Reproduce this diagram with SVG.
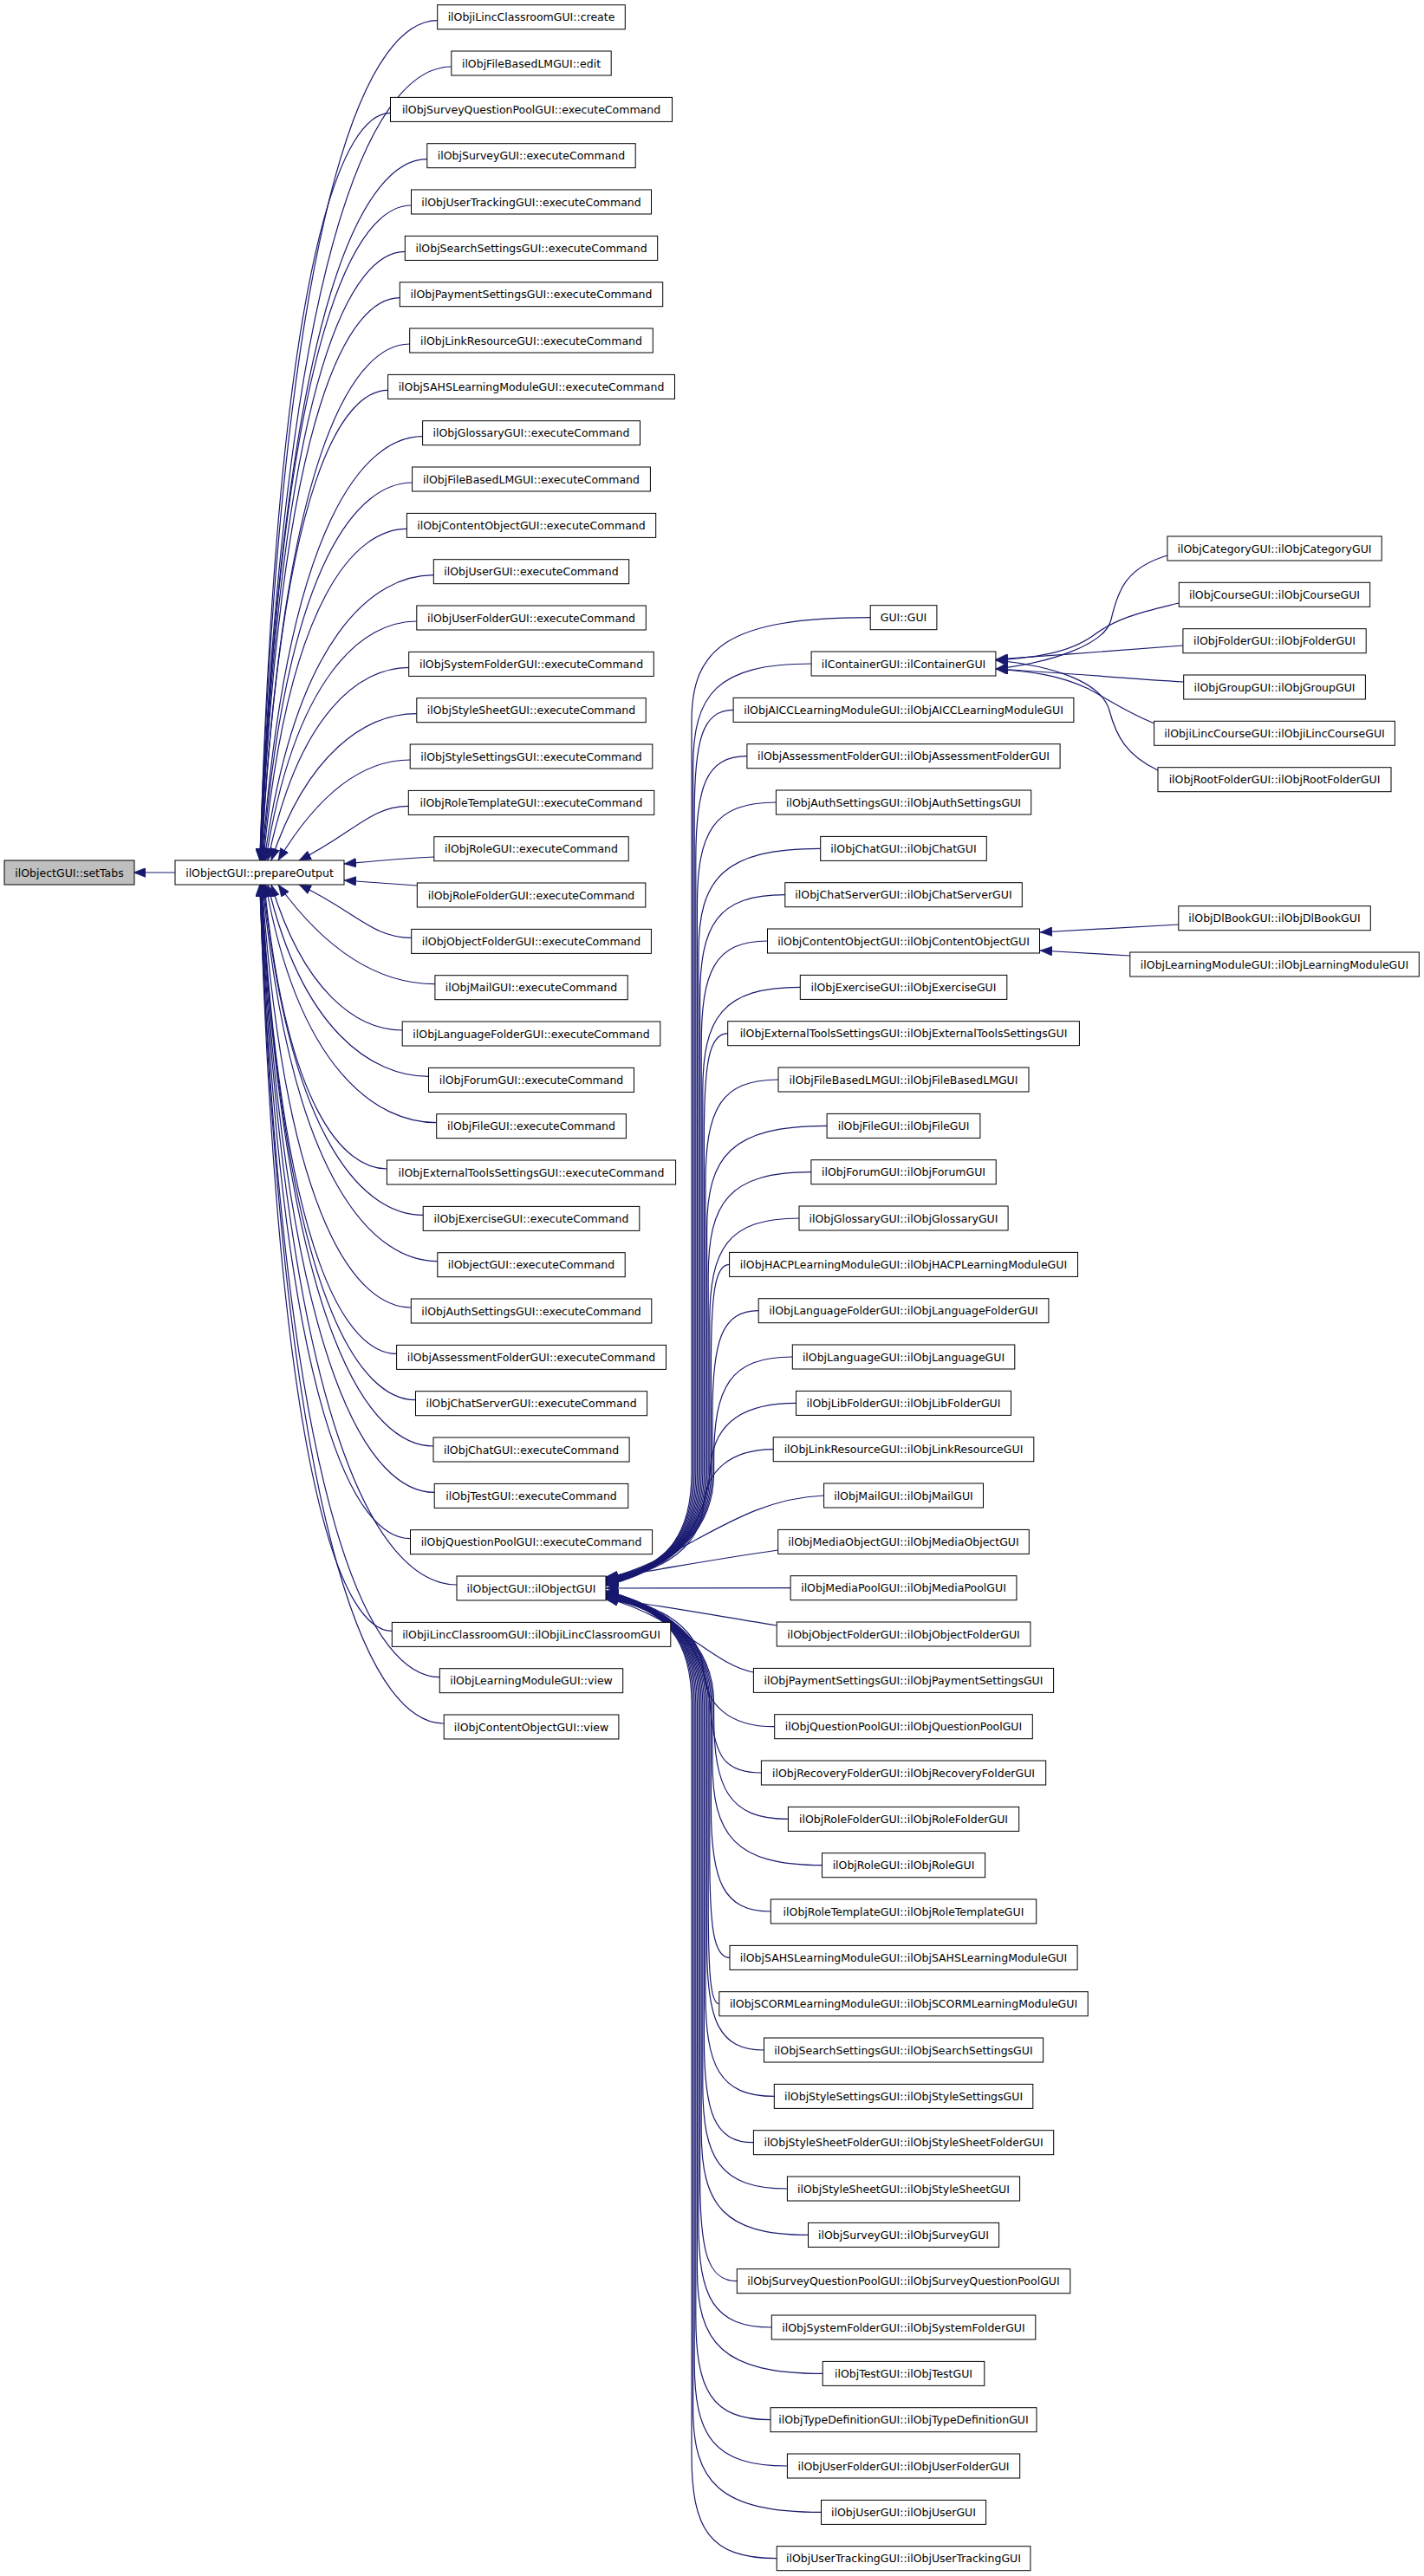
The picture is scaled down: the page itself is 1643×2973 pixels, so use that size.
<svg xmlns="http://www.w3.org/2000/svg" width="1643" height="2973" viewBox="0 0 1643 2973">
<style>
rect{fill:#fff;stroke:#000;stroke-width:1}
rect.hl{fill:#bfbfbf}
text{font-family:"DejaVu Sans","Liberation Sans",sans-serif;font-size:12.5px;text-anchor:middle;fill:#000}
.e path{fill:none;stroke:#191970;stroke-width:1.2;marker-end:url(#a)}
</style>
<defs>
<marker id="a" markerUnits="userSpaceOnUse" markerWidth="14" markerHeight="11" viewBox="0 0 14 11" refX="14" refY="5.5" orient="auto"><path d="M0,0 L14,5.5 L0,11 Z" fill="#191970" stroke="#191970" stroke-width="0.5"/></marker>
</defs>
<rect x="0" y="0" width="1643" height="2973" style="fill:#fff;stroke:none"/>
<g class="e" id="edges">
<path d="M202,1007 L154,1007"/>
<path d="M504.7,23.7 C433,23.7 328.6,187.9 299.7,993"/>
<path d="M520.8,77 C443.5,77 331.3,233.3 299.8,993"/>
<path d="M450.5,130.4 C397.8,130.4 321.6,278.7 300,993"/>
<path d="M492.8,183.7 C425.4,183.7 328.2,324 300.2,993"/>
<path d="M474.5,237 C413.6,237 326,369.3 300.4,993"/>
<path d="M467.3,290.4 C409,290.4 325.6,414.7 300.7,993"/>
<path d="M461.3,343.7 C405.2,343.7 325.3,460 301,993"/>
<path d="M472.7,397 C412.7,397 327.9,505.4 301.4,993"/>
<path d="M447.6,450.4 C396.6,450.4 324.8,550.8 301.8,993"/>
<path d="M487.6,503.7 C422.7,503.7 332.3,596.1 302.3,993"/>
<path d="M475.6,557 C415.2,557 331.9,641.5 303,993"/>
<path d="M469.4,610.4 C411.5,610.4 332.7,686.9 303.9,993"/>
<path d="M500.3,663.7 C431.9,663.7 340.8,732.3 305,993"/>
<path d="M480.8,717 C419.8,717 340.7,777.7 306.6,993"/>
<path d="M471.7,770.4 C414.8,770.4 344,823.3 309,993"/>
<path d="M480.8,823.7 C422.1,823.7 354.4,868.8 313,993"/>
<path d="M473.2,877 C419.9,877 368.2,914.7 321,993"/>
<path d="M471.3,930.4 C427.1,930.4 408.2,961.7 345,993"/>
<path d="M501,989 C460,991 430,994 397,997"/>
<path d="M481,1022 C450,1020 425,1018 397,1016"/>
<path d="M474.7,1082.4 C429.3,1082.4 409.9,1051.7 345,1021"/>
<path d="M501.9,1135.7 C438.6,1135.7 377.1,1098.4 321,1021"/>
<path d="M464.2,1189 C411.3,1189 350.3,1144.2 313,1021"/>
<path d="M494.5,1242.4 C429.6,1242.4 348.9,1189.8 309,1021"/>
<path d="M503.7,1295.7 C434.7,1295.7 345.2,1235.3 306.6,1021"/>
<path d="M446.4,1349 C396.9,1349 330.9,1280.7 305,1021"/>
<path d="M488.2,1402.4 C423.7,1402.4 336,1326.1 303.9,1021"/>
<path d="M504.8,1455.7 C434.2,1455.7 336.8,1371.5 303,1021"/>
<path d="M474.3,1509 C414.1,1509 330.2,1416.8 302.3,1021"/>
<path d="M457.6,1562.4 C403.1,1562.4 326.4,1462.2 301.8,1021"/>
<path d="M479.5,1615.7 C417.2,1615.7 328.9,1507.6 301.4,1021"/>
<path d="M500,1669 C430.3,1669 331.2,1552.9 301,1021"/>
<path d="M501.2,1722.4 C431,1722.4 330.6,1598.3 300.7,1021"/>
<path d="M473.5,1775.7 C412.9,1775.7 325.9,1643.6 300.4,1021"/>
<path d="M527,1829 C447.6,1829 333.2,1689 300.2,1021"/>
<path d="M452.3,1882.4 C399,1882.4 321.9,1734.3 300,1021"/>
<path d="M507.3,1935.7 C434.7,1935.7 329.3,1779.7 299.8,1021"/>
<path d="M512.2,1989 C437.8,1989 329.7,1825 299.7,1021"/>
<path d="M1004.2,712.7 C839.2,712.7 798,747.7 798,832.7 L798,1700 C798,1770 770,1812 699,1820"/>
<path d="M936.1,766 C826.9,766 799.6,801 799.6,886 L799.6,1700 C799.6,1770 770,1812 699,1820.6"/>
<path d="M846.1,819.4 C810.2,819.4 801.2,854.4 801.2,939.4 L801.2,1700 C801.2,1770 770,1812 699,1821.2"/>
<path d="M861.9,872.7 C814.6,872.7 802.8,907.7 802.8,992.7 L802.8,1700 C802.8,1770 770,1812 699,1821.8"/>
<path d="M895.4,926 C822.6,926 804.4,961 804.4,1046 L804.4,1700 C804.4,1770 770,1812 699,1822.4"/>
<path d="M946.7,979.4 C834.1,979.4 806,1014.4 806,1099.4 L806,1700 C806,1770 770,1812 699,1823"/>
<path d="M905.8,1032.7 C827.2,1032.7 807.6,1067.7 807.6,1152.7 L807.6,1700 C807.6,1770 770,1812 699,1823.6"/>
<path d="M885.5,1086 C824.5,1086 809.2,1121 809.2,1206 L809.2,1700 C809.2,1770 770,1812 699,1824.2"/>
<path d="M923.3,1139.4 C833.3,1139.4 810.8,1174.4 810.8,1259.4 L810.8,1700 C810.8,1770 770,1812 699,1824.8"/>
<path d="M839.7,1192.7 C817.9,1192.7 812.4,1227.7 812.4,1312.7 L812.4,1700 C812.4,1770 770,1812 699,1825.4"/>
<path d="M898,1246 C830.8,1246 814,1281 814,1366 L814,1700 C814,1770 770,1812 699,1826"/>
<path d="M954.1,1299.4 C843.3,1299.4 815.6,1334.4 815.6,1419.4 L815.6,1700 C815.6,1770 770,1812 699,1826.6"/>
<path d="M935.9,1352.7 C840.9,1352.7 817.2,1387.7 817.2,1472.7 L817.2,1700 C817.2,1770 770,1812 699,1827.2"/>
<path d="M922,1406 C839.4,1406 818.8,1441 818.8,1526 L818.8,1700 C818.8,1770 770,1812 699,1827.8"/>
<path d="M841.6,1459.4 C824.6,1459.4 820.4,1494.4 820.4,1579.4 L820.4,1700 C820.4,1770 770,1812 699,1828.4"/>
<path d="M875.2,1512.7 C832.6,1512.7 822,1547.7 822,1632.7 L822,1700 C822,1770 770,1812 699,1829"/>
<path d="M914.3,1566 C841.7,1566 823.6,1601 823.6,1686 L823.6,1700 C823.6,1770 770,1812 699,1829.6"/>
<path d="M918.5,1619.4 C860,1619.4 825,1640 820,1690 C815,1770 770,1812 699,1830"/>
<path d="M892.2,1672.7 C840,1673 815,1700 812,1735 C808,1785 770,1812 699,1826"/>
<path d="M950.6,1726 C850,1730 790,1800 699,1822"/>
<path d="M897.7,1789 C820,1800 760,1812 699,1821"/>
<path d="M912.1,1832.7 L699,1833"/>
<path d="M896.2,1876 C820,1864 760,1852 699,1845"/>
<path d="M869.4,1930 C820,1920 790,1870 699,1844"/>
<path d="M893.7,1992.7 C840,1993 815,1966 812,1931 C808,1881 770,1854 699,1840"/>
<path d="M878.4,2046 C835,2046 825,2026 820,1976 C815,1896 770,1854 699,1836"/>
<path d="M909.4,2099.4 C840.8,2099.4 823.6,2064.4 823.6,1979.4 L823.6,1966 C823.6,1896 770,1854 699,1836.4"/>
<path d="M948.5,2152.7 C847.3,2152.7 822,2117.7 822,2032.7 L822,1966 C822,1896 770,1854 699,1837"/>
<path d="M889.3,2206 C834.2,2206 820.4,2171 820.4,2086 L820.4,1966 C820.4,1896 770,1854 699,1837.6"/>
<path d="M842,2259.4 C823.4,2259.4 818.8,2224.4 818.8,2139.4 L818.8,1966 C818.8,1896 770,1854 699,1838.2"/>
<path d="M829.8,2312.7 C819.7,2312.7 817.2,2277.7 817.2,2192.7 L817.2,1966 C817.2,1896 770,1854 699,1838.8"/>
<path d="M881.5,2366 C828.8,2366 815.6,2331 815.6,2246 L815.6,1966 C815.6,1896 770,1854 699,1839.4"/>
<path d="M893.3,2419.4 C829.9,2419.4 814,2384.4 814,2299.4 L814,1966 C814,1896 770,1854 699,1840"/>
<path d="M869.4,2472.7 C823.8,2472.7 812.4,2437.7 812.4,2352.7 L812.4,1966 C812.4,1896 770,1854 699,1840.6"/>
<path d="M908.4,2526 C830.3,2526 810.8,2491 810.8,2406 L810.8,1966 C810.8,1896 770,1854 699,1841.2"/>
<path d="M932.5,2579.4 C833.9,2579.4 809.2,2544.4 809.2,2459.4 L809.2,1966 C809.2,1896 770,1854 699,1841.8"/>
<path d="M850.3,2632.7 C816.1,2632.7 807.6,2597.7 807.6,2512.7 L807.6,1966 C807.6,1896 770,1854 699,1842.4"/>
<path d="M890.3,2686 C822.9,2686 806,2651 806,2566 L806,1966 C806,1896 770,1854 699,1843"/>
<path d="M949.2,2739.4 C833.4,2739.4 804.4,2704.4 804.4,2619.4 L804.4,1966 C804.4,1896 770,1854 699,1843.6"/>
<path d="M889,2792.7 C820,2792.7 802.8,2757.7 802.8,2672.7 L802.8,1966 C802.8,1896 770,1854 699,1844.2"/>
<path d="M908.4,2846 C822.6,2846 801.2,2811 801.2,2726 L801.2,1966 C801.2,1896 770,1854 699,1844.8"/>
<path d="M947.5,2899.4 C829.2,2899.4 799.6,2864.4 799.6,2779.4 L799.6,1966 C799.6,1896 770,1854 699,1845.4"/>
<path d="M896.2,2952.7 C817.6,2952.7 798,2917.7 798,2832.7 L798,1966 C798,1896 770,1854 699,1846"/>
<path d="M1347,641 C1300,655 1290,680 1282,715 C1275,745 1210,765 1149,772"/>
<path d="M1360,696 C1320,706 1290,712 1262,733 C1232,755 1190,759 1149,762"/>
<path d="M1365,745 C1300,750 1220,756 1149,761"/>
<path d="M1366,787 C1300,783 1220,776 1149,772"/>
<path d="M1332,835 C1300,822 1280,808 1256,795 C1222,779 1190,775 1149,772"/>
<path d="M1336,889 C1300,872 1288,850 1280,820 C1270,785 1210,768 1149,762"/>
<path d="M1360,1067 C1300,1070 1250,1073 1200,1076"/>
<path d="M1304,1103 C1270,1101 1240,1099 1200,1097"/>
</g>
<g id="setTabs"><rect class="hl" x="5" y="993" width="150" height="28"/><text x="80" y="1011.5">ilObjectGUI::setTabs</text></g>
<g id="prepareOutput"><rect x="202" y="993" width="195" height="28"/><text x="299.5" y="1011.5">ilObjectGUI::prepareOutput</text></g>
<g id="c2_0"><rect x="504.7" y="5.7" width="216.6" height="28"/><text x="613" y="24.2">ilObjiLincClassroomGUI::create</text></g>
<g id="c2_1"><rect x="520.8" y="59" width="184.4" height="28"/><text x="613" y="77.5">ilObjFileBasedLMGUI::edit</text></g>
<g id="c2_2"><rect x="450.5" y="112.4" width="325" height="28"/><text x="613" y="130.9">ilObjSurveyQuestionPoolGUI::executeCommand</text></g>
<g id="c2_3"><rect x="492.8" y="165.7" width="240.4" height="28"/><text x="613" y="184.2">ilObjSurveyGUI::executeCommand</text></g>
<g id="c2_4"><rect x="474.5" y="219" width="277" height="28"/><text x="613" y="237.5">ilObjUserTrackingGUI::executeCommand</text></g>
<g id="c2_5"><rect x="467.3" y="272.4" width="291.4" height="28"/><text x="613" y="290.9">ilObjSearchSettingsGUI::executeCommand</text></g>
<g id="c2_6"><rect x="461.3" y="325.7" width="303.4" height="28"/><text x="613" y="344.2">ilObjPaymentSettingsGUI::executeCommand</text></g>
<g id="c2_7"><rect x="472.7" y="379" width="280.6" height="28"/><text x="613" y="397.5">ilObjLinkResourceGUI::executeCommand</text></g>
<g id="c2_8"><rect x="447.6" y="432.4" width="330.9" height="28"/><text x="613" y="450.9">ilObjSAHSLearningModuleGUI::executeCommand</text></g>
<g id="c2_9"><rect x="487.6" y="485.7" width="250.9" height="28"/><text x="613" y="504.2">ilObjGlossaryGUI::executeCommand</text></g>
<g id="c2_10"><rect x="475.6" y="539" width="274.8" height="28"/><text x="613" y="557.5">ilObjFileBasedLMGUI::executeCommand</text></g>
<g id="c2_11"><rect x="469.4" y="592.4" width="287.3" height="28"/><text x="613" y="610.9">ilObjContentObjectGUI::executeCommand</text></g>
<g id="c2_12"><rect x="500.3" y="645.7" width="225.4" height="28"/><text x="613" y="664.2">ilObjUserGUI::executeCommand</text></g>
<g id="c2_13"><rect x="480.8" y="699" width="264.5" height="28"/><text x="613" y="717.5">ilObjUserFolderGUI::executeCommand</text></g>
<g id="c2_14"><rect x="471.7" y="752.4" width="282.6" height="28"/><text x="613" y="770.9">ilObjSystemFolderGUI::executeCommand</text></g>
<g id="c2_15"><rect x="480.8" y="805.7" width="264.4" height="28"/><text x="613" y="824.2">ilObjStyleSheetGUI::executeCommand</text></g>
<g id="c2_16"><rect x="473.2" y="859" width="279.6" height="28"/><text x="613" y="877.5">ilObjStyleSettingsGUI::executeCommand</text></g>
<g id="c2_17"><rect x="471.3" y="912.4" width="283.5" height="28"/><text x="613" y="930.9">ilObjRoleTemplateGUI::executeCommand</text></g>
<g id="c2_18"><rect x="500.8" y="965.7" width="224.4" height="28"/><text x="613" y="984.2">ilObjRoleGUI::executeCommand</text></g>
<g id="c2_19"><rect x="481.3" y="1019" width="263.5" height="28"/><text x="613" y="1037.5">ilObjRoleFolderGUI::executeCommand</text></g>
<g id="c2_20"><rect x="474.7" y="1072.4" width="276.7" height="28"/><text x="613" y="1090.9">ilObjObjectFolderGUI::executeCommand</text></g>
<g id="c2_21"><rect x="501.9" y="1125.7" width="222.3" height="28"/><text x="613" y="1144.2">ilObjMailGUI::executeCommand</text></g>
<g id="c2_22"><rect x="464.2" y="1179" width="297.6" height="28"/><text x="613" y="1197.5">ilObjLanguageFolderGUI::executeCommand</text></g>
<g id="c2_23"><rect x="494.5" y="1232.4" width="237" height="28"/><text x="613" y="1250.9">ilObjForumGUI::executeCommand</text></g>
<g id="c2_24"><rect x="503.7" y="1285.7" width="218.7" height="28"/><text x="613" y="1304.2">ilObjFileGUI::executeCommand</text></g>
<g id="c2_25"><rect x="446.4" y="1339" width="333.2" height="28"/><text x="613" y="1357.5">ilObjExternalToolsSettingsGUI::executeCommand</text></g>
<g id="c2_26"><rect x="488.2" y="1392.4" width="249.6" height="28"/><text x="613" y="1410.9">ilObjExerciseGUI::executeCommand</text></g>
<g id="c2_27"><rect x="504.8" y="1445.7" width="216.4" height="28"/><text x="613" y="1464.2">ilObjectGUI::executeCommand</text></g>
<g id="c2_28"><rect x="474.3" y="1499" width="277.5" height="28"/><text x="613" y="1517.5">ilObjAuthSettingsGUI::executeCommand</text></g>
<g id="c2_29"><rect x="457.6" y="1552.4" width="310.9" height="28"/><text x="613" y="1570.9">ilObjAssessmentFolderGUI::executeCommand</text></g>
<g id="c2_30"><rect x="479.5" y="1605.7" width="267.1" height="28"/><text x="613" y="1624.2">ilObjChatServerGUI::executeCommand</text></g>
<g id="c2_31"><rect x="500" y="1659" width="226.1" height="28"/><text x="613" y="1677.5">ilObjChatGUI::executeCommand</text></g>
<g id="c2_32"><rect x="501.2" y="1712.4" width="223.6" height="28"/><text x="613" y="1730.9">ilObjTestGUI::executeCommand</text></g>
<g id="c2_33"><rect x="473.5" y="1765.7" width="279.1" height="28"/><text x="613" y="1784.2">ilObjQuestionPoolGUI::executeCommand</text></g>
<g id="c2_34"><rect x="527" y="1819" width="172" height="28"/><text x="613" y="1837.5">ilObjectGUI::ilObjectGUI</text></g>
<g id="c2_35"><rect x="452.3" y="1872.4" width="321.5" height="28"/><text x="613" y="1890.9">ilObjiLincClassroomGUI::ilObjiLincClassroomGUI</text></g>
<g id="c2_36"><rect x="507.3" y="1925.7" width="211.4" height="28"/><text x="613" y="1944.2">ilObjLearningModuleGUI::view</text></g>
<g id="c2_37"><rect x="512.2" y="1979" width="201.7" height="28"/><text x="613" y="1997.5">ilObjContentObjectGUI::view</text></g>
<g id="c3_0"><rect x="1004.2" y="698.7" width="76.7" height="28"/><text x="1042.5" y="717.2">GUI::GUI</text></g>
<g id="c3_1"><rect x="936.1" y="752" width="212.8" height="28"/><text x="1042.5" y="770.5">ilContainerGUI::ilContainerGUI</text></g>
<g id="c3_2"><rect x="846.1" y="805.4" width="392.8" height="28"/><text x="1042.5" y="823.9">ilObjAICCLearningModuleGUI::ilObjAICCLearningModuleGUI</text></g>
<g id="c3_3"><rect x="861.9" y="858.7" width="361.2" height="28"/><text x="1042.5" y="877.2">ilObjAssessmentFolderGUI::ilObjAssessmentFolderGUI</text></g>
<g id="c3_4"><rect x="895.4" y="912" width="294.3" height="28"/><text x="1042.5" y="930.5">ilObjAuthSettingsGUI::ilObjAuthSettingsGUI</text></g>
<g id="c3_5"><rect x="946.7" y="965.4" width="191.6" height="28"/><text x="1042.5" y="983.9">ilObjChatGUI::ilObjChatGUI</text></g>
<g id="c3_6"><rect x="905.8" y="1018.7" width="273.5" height="28"/><text x="1042.5" y="1037.2">ilObjChatServerGUI::ilObjChatServerGUI</text></g>
<g id="c3_7"><rect x="885.5" y="1072" width="314" height="28"/><text x="1042.5" y="1090.5">ilObjContentObjectGUI::ilObjContentObjectGUI</text></g>
<g id="c3_8"><rect x="923.3" y="1125.4" width="238.5" height="28"/><text x="1042.5" y="1143.9">ilObjExerciseGUI::ilObjExerciseGUI</text></g>
<g id="c3_9"><rect x="839.7" y="1178.7" width="405.7" height="28"/><text x="1042.5" y="1197.2">ilObjExternalToolsSettingsGUI::ilObjExternalToolsSettingsGUI</text></g>
<g id="c3_10"><rect x="898" y="1232" width="289" height="28"/><text x="1042.5" y="1250.5">ilObjFileBasedLMGUI::ilObjFileBasedLMGUI</text></g>
<g id="c3_11"><rect x="954.1" y="1285.4" width="176.8" height="28"/><text x="1042.5" y="1303.9">ilObjFileGUI::ilObjFileGUI</text></g>
<g id="c3_12"><rect x="935.9" y="1338.7" width="213.3" height="28"/><text x="1042.5" y="1357.2">ilObjForumGUI::ilObjForumGUI</text></g>
<g id="c3_13"><rect x="922" y="1392" width="241.1" height="28"/><text x="1042.5" y="1410.5">ilObjGlossaryGUI::ilObjGlossaryGUI</text></g>
<g id="c3_14"><rect x="841.6" y="1445.4" width="401.9" height="28"/><text x="1042.5" y="1463.9">ilObjHACPLearningModuleGUI::ilObjHACPLearningModuleGUI</text></g>
<g id="c3_15"><rect x="875.2" y="1498.7" width="334.7" height="28"/><text x="1042.5" y="1517.2">ilObjLanguageFolderGUI::ilObjLanguageFolderGUI</text></g>
<g id="c3_16"><rect x="914.3" y="1552" width="256.5" height="28"/><text x="1042.5" y="1570.5">ilObjLanguageGUI::ilObjLanguageGUI</text></g>
<g id="c3_17"><rect x="918.5" y="1605.4" width="248" height="28"/><text x="1042.5" y="1623.9">ilObjLibFolderGUI::ilObjLibFolderGUI</text></g>
<g id="c3_18"><rect x="892.2" y="1658.7" width="300.6" height="28"/><text x="1042.5" y="1677.2">ilObjLinkResourceGUI::ilObjLinkResourceGUI</text></g>
<g id="c3_19"><rect x="950.6" y="1712" width="183.9" height="28"/><text x="1042.5" y="1730.5">ilObjMailGUI::ilObjMailGUI</text></g>
<g id="c3_20"><rect x="897.7" y="1765.4" width="289.6" height="28"/><text x="1042.5" y="1783.9">ilObjMediaObjectGUI::ilObjMediaObjectGUI</text></g>
<g id="c3_21"><rect x="912.1" y="1818.7" width="260.8" height="28"/><text x="1042.5" y="1837.2">ilObjMediaPoolGUI::ilObjMediaPoolGUI</text></g>
<g id="c3_22"><rect x="896.2" y="1872" width="292.7" height="28"/><text x="1042.5" y="1890.5">ilObjObjectFolderGUI::ilObjObjectFolderGUI</text></g>
<g id="c3_23"><rect x="869.4" y="1925.4" width="346.2" height="28"/><text x="1042.5" y="1943.9">ilObjPaymentSettingsGUI::ilObjPaymentSettingsGUI</text></g>
<g id="c3_24"><rect x="893.7" y="1978.7" width="297.6" height="28"/><text x="1042.5" y="1997.2">ilObjQuestionPoolGUI::ilObjQuestionPoolGUI</text></g>
<g id="c3_25"><rect x="878.4" y="2032" width="328.3" height="28"/><text x="1042.5" y="2050.5">ilObjRecoveryFolderGUI::ilObjRecoveryFolderGUI</text></g>
<g id="c3_26"><rect x="909.4" y="2085.4" width="266.3" height="28"/><text x="1042.5" y="2103.9">ilObjRoleFolderGUI::ilObjRoleFolderGUI</text></g>
<g id="c3_27"><rect x="948.5" y="2138.7" width="188.1" height="28"/><text x="1042.5" y="2157.2">ilObjRoleGUI::ilObjRoleGUI</text></g>
<g id="c3_28"><rect x="889.3" y="2192" width="306.4" height="28"/><text x="1042.5" y="2210.5">ilObjRoleTemplateGUI::ilObjRoleTemplateGUI</text></g>
<g id="c3_29"><rect x="842" y="2245.4" width="401.1" height="28"/><text x="1042.5" y="2263.9">ilObjSAHSLearningModuleGUI::ilObjSAHSLearningModuleGUI</text></g>
<g id="c3_30"><rect x="829.8" y="2298.7" width="425.4" height="28"/><text x="1042.5" y="2317.2">ilObjSCORMLearningModuleGUI::ilObjSCORMLearningModuleGUI</text></g>
<g id="c3_31"><rect x="881.5" y="2352" width="322.1" height="28"/><text x="1042.5" y="2370.5">ilObjSearchSettingsGUI::ilObjSearchSettingsGUI</text></g>
<g id="c3_32"><rect x="893.3" y="2405.4" width="298.5" height="28"/><text x="1042.5" y="2423.9">ilObjStyleSettingsGUI::ilObjStyleSettingsGUI</text></g>
<g id="c3_33"><rect x="869.4" y="2458.7" width="346.3" height="28"/><text x="1042.5" y="2477.2">ilObjStyleSheetFolderGUI::ilObjStyleSheetFolderGUI</text></g>
<g id="c3_34"><rect x="908.4" y="2512" width="268.2" height="28"/><text x="1042.5" y="2530.5">ilObjStyleSheetGUI::ilObjStyleSheetGUI</text></g>
<g id="c3_35"><rect x="932.5" y="2565.4" width="220.1" height="28"/><text x="1042.5" y="2583.9">ilObjSurveyGUI::ilObjSurveyGUI</text></g>
<g id="c3_36"><rect x="850.3" y="2618.7" width="384.5" height="28"/><text x="1042.5" y="2637.2">ilObjSurveyQuestionPoolGUI::ilObjSurveyQuestionPoolGUI</text></g>
<g id="c3_37"><rect x="890.3" y="2672" width="304.5" height="28"/><text x="1042.5" y="2690.5">ilObjSystemFolderGUI::ilObjSystemFolderGUI</text></g>
<g id="c3_38"><rect x="949.2" y="2725.4" width="186.6" height="28"/><text x="1042.5" y="2743.9">ilObjTestGUI::ilObjTestGUI</text></g>
<g id="c3_39"><rect x="889" y="2778.7" width="307" height="28"/><text x="1042.5" y="2797.2">ilObjTypeDefinitionGUI::ilObjTypeDefinitionGUI</text></g>
<g id="c3_40"><rect x="908.4" y="2832" width="268.3" height="28"/><text x="1042.5" y="2850.5">ilObjUserFolderGUI::ilObjUserFolderGUI</text></g>
<g id="c3_41"><rect x="947.5" y="2885.4" width="190.1" height="28"/><text x="1042.5" y="2903.9">ilObjUserGUI::ilObjUserGUI</text></g>
<g id="c3_42"><rect x="896.2" y="2938.7" width="292.7" height="28"/><text x="1042.5" y="2957.2">ilObjUserTrackingGUI::ilObjUserTrackingGUI</text></g>
<g id="c4_category"><rect x="1346.9" y="619" width="247.3" height="28"/><text x="1470.5" y="637.5">ilObjCategoryGUI::ilObjCategoryGUI</text></g>
<g id="c4_course"><rect x="1360.3" y="672.3" width="220.4" height="28"/><text x="1470.5" y="690.8">ilObjCourseGUI::ilObjCourseGUI</text></g>
<g id="c4_folder"><rect x="1364.9" y="725.7" width="211.3" height="28"/><text x="1470.5" y="744.2">ilObjFolderGUI::ilObjFolderGUI</text></g>
<g id="c4_group"><rect x="1365.7" y="779" width="209.7" height="28"/><text x="1470.5" y="797.5">ilObjGroupGUI::ilObjGroupGUI</text></g>
<g id="c4_ilinc"><rect x="1331.6" y="832.3" width="277.8" height="28"/><text x="1470.5" y="850.8">ilObjiLincCourseGUI::ilObjiLincCourseGUI</text></g>
<g id="c4_root"><rect x="1336" y="885.7" width="269" height="28"/><text x="1470.5" y="904.2">ilObjRootFolderGUI::ilObjRootFolderGUI</text></g>
<g id="c4_dlbook"><rect x="1359.8" y="1045.7" width="221.5" height="28"/><text x="1470.5" y="1064.2">ilObjDlBookGUI::ilObjDlBookGUI</text></g>
<g id="c4_lm"><rect x="1303.8" y="1099" width="333.5" height="28"/><text x="1470.5" y="1117.5">ilObjLearningModuleGUI::ilObjLearningModuleGUI</text></g>
</svg>
